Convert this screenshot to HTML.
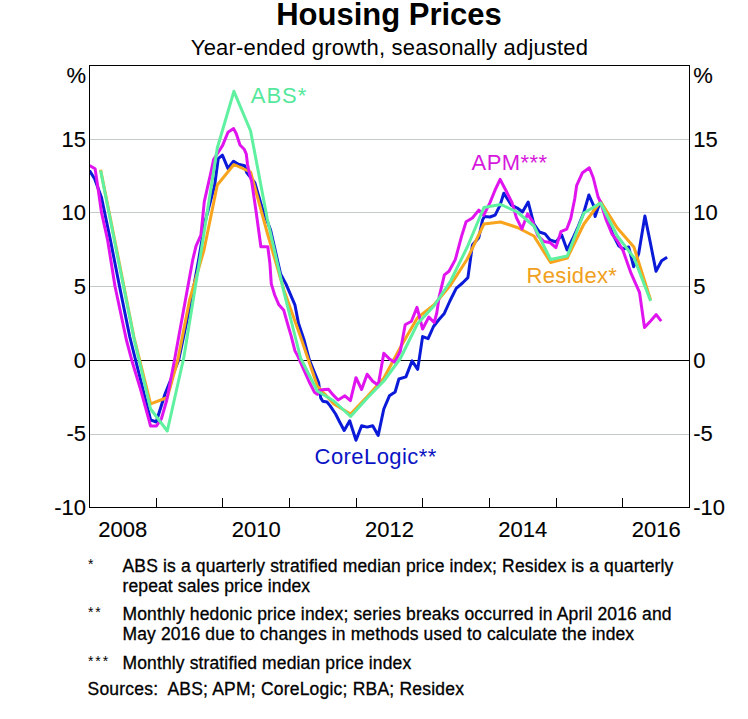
<!DOCTYPE html><html><head><meta charset="utf-8"><style>html,body{margin:0;padding:0;background:#fff;}svg{display:block;}text{font-family:"Liberation Sans",sans-serif;}.k{stroke:#000;stroke-width:0.3px;}.k2{stroke:#000;stroke-width:0.12px;}</style></head><body>
<svg width="748" height="719" viewBox="0 0 748 719">
<rect width="748" height="719" fill="#fff"/>
<text x="389" y="25" text-anchor="middle" font-size="31" font-weight="bold" fill="#000">Housing Prices</text>
<text x="389.5" y="54.7" text-anchor="middle" font-size="22" letter-spacing="0.18" fill="#000">Year-ended growth, seasonally adjusted</text>
<line x1="90" x2="689" y1="139.5" y2="139.5" stroke="#c3cac8" stroke-width="1"/>
<line x1="90" x2="689" y1="212.5" y2="212.5" stroke="#c3cac8" stroke-width="1"/>
<line x1="90" x2="689" y1="286.5" y2="286.5" stroke="#c3cac8" stroke-width="1"/>
<line x1="90" x2="689" y1="434.5" y2="434.5" stroke="#c3cac8" stroke-width="1"/>
<line x1="89" x2="690" y1="360.5" y2="360.5" stroke="#000" stroke-width="1"/>
<line x1="156.5" x2="156.5" y1="498" y2="507" stroke="#000" stroke-width="1"/>
<line x1="222.5" x2="222.5" y1="498" y2="507" stroke="#000" stroke-width="1"/>
<line x1="289.5" x2="289.5" y1="498" y2="507" stroke="#000" stroke-width="1"/>
<line x1="356.5" x2="356.5" y1="498" y2="507" stroke="#000" stroke-width="1"/>
<line x1="422.5" x2="422.5" y1="498" y2="507" stroke="#000" stroke-width="1"/>
<line x1="489.5" x2="489.5" y1="498" y2="507" stroke="#000" stroke-width="1"/>
<line x1="556.5" x2="556.5" y1="498" y2="507" stroke="#000" stroke-width="1"/>
<line x1="622.5" x2="622.5" y1="498" y2="507" stroke="#000" stroke-width="1"/>
<defs><clipPath id="pc"><rect x="90" y="66" width="599" height="441"/></clipPath></defs>
<g fill="none" stroke-width="3" stroke-linejoin="round" stroke-linecap="butt" clip-path="url(#pc)">
<path d="M89.5,170.5 L94.6,178.8 L101.5,197.5 L110.4,240.0 L119.5,286.3 L129.8,337.0 L150.6,419.8 L156.2,422.0 L165.0,394.0 L178.7,360.0 L191.3,300.0 L198.6,260.0 L205.0,222.0 L214.7,185.0 L218.2,158.7 L222.4,155.2 L227.9,168.4 L233.5,161.2 L238.4,164.3 L244.6,165.7 L246.7,172.5 L254.8,182.7 L262.3,208.4 L270.6,230.0 L280.6,274.0 L285.9,283.9 L294.9,304.8 L298.4,322.9 L303.9,339.5 L309.5,360.4 L318.6,382.6 L320.7,397.9 L322.8,401.3 L327.0,402.0 L330.0,405.6 L335.6,414.0 L339.4,421.5 L344.2,430.5 L349.7,420.8 L356.0,440.3 L361.6,425.7 L367.1,427.1 L372.7,425.7 L378.2,435.4 L383.8,409.0 L389.4,395.8 L395.1,392.0 L398.9,379.0 L405.9,376.9 L412.1,360.9 L417.7,369.3 L422.6,336.6 L428.1,338.7 L433.5,326.5 L439.0,319.5 L444.3,313.4 L449.9,301.0 L456.2,288.4 L462.5,283.0 L467.9,277.6 L472.4,245.1 L478.8,237.7 L482.5,220.1 L484.4,216.4 L490.0,217.0 L495.1,215.1 L500.1,205.1 L503.8,193.2 L507.0,198.2 L511.4,205.1 L517.3,208.0 L522.5,212.0 L528.2,202.0 L533.8,223.9 L539.4,232.0 L545.1,233.9 L550.0,240.0 L556.0,242.0 L561.7,235.0 L567.1,250.0 L572.8,238.5 L578.4,226.0 L583.8,212.5 L588.9,195.0 L593.7,205.8 L595.1,216.5 L598.1,207.7 L600.7,202.0 L606.2,216.0 L612.6,233.9 L618.7,245.7 L623.1,249.0 L628.7,247.0 L633.7,266.8 L638.7,253.5 L644.9,216.0 L650.6,244.0 L656.0,271.3 L661.6,260.7 L667.1,257.3" stroke="#0a1ad8"/>
<path d="M100.6,169.7 L117.3,253.0 L133.9,337.0 L150.6,403.8 L167.3,397.5 L177.8,360.0 L189.6,300.0 L204.0,250.0 L217.3,185.0 L233.9,164.5 L250.6,172.0 L267.3,233.0 L283.9,290.0 L300.6,337.0 L317.3,386.0 L333.9,404.0 L350.6,414.0 L367.3,396.5 L383.9,378.0 L400.6,347.0 L417.3,318.0 L433.9,305.0 L450.6,285.0 L467.3,259.0 L483.9,224.0 L500.6,222.0 L517.3,227.5 L533.9,236.0 L550.6,262.5 L567.3,258.0 L583.9,224.0 L600.6,201.5 L617.3,228.0 L633.9,247.0 L650.6,300.0" stroke="#f8a41c"/>
<path d="M89.5,165.6 L95.1,168.8 L98.4,191.0 L101.5,212.5 L107.6,240.0 L115.0,286.3 L126.4,340.0 L132.5,362.8 L140.9,390.6 L148.5,418.4 L150.6,426.0 L156.5,426.0 L161.3,419.0 L166.8,400.0 L174.5,360.0 L192.7,260.0 L196.0,246.2 L200.9,235.1 L204.3,201.7 L207.1,189.2 L210.6,173.9 L213.6,159.5 L218.6,151.7 L222.5,145.6 L228.0,132.2 L233.6,128.6 L236.3,133.7 L240.0,145.0 L244.2,149.2 L246.3,154.2 L247.5,164.2 L249.2,172.5 L251.7,181.5 L256.0,211.0 L260.9,246.8 L267.8,246.8 L269.9,263.4 L271.3,283.9 L274.7,295.0 L278.9,304.8 L283.8,310.3 L287.3,322.9 L291.4,336.8 L294.9,350.7 L297.8,356.1 L303.3,368.6 L308.9,381.2 L314.5,392.3 L317.3,394.4 L320.0,390.2 L324.2,389.5 L328.4,389.2 L332.6,394.4 L338.1,400.0 L344.9,395.8 L350.4,400.6 L356.0,377.7 L361.6,389.5 L367.1,374.2 L372.7,381.2 L378.2,385.3 L383.8,353.3 L389.4,358.9 L394.7,362.3 L400.3,351.2 L405.2,324.8 L411.4,321.3 L417.0,307.4 L422.6,329.0 L428.8,317.1 L434.2,322.5 L436.7,313.4 L439.2,296.7 L444.4,274.9 L449.0,271.3 L455.3,259.6 L461.6,236.1 L466.1,221.7 L472.4,218.0 L478.8,210.1 L483.8,215.1 L490.0,202.6 L495.1,190.0 L500.1,179.4 L506.3,191.3 L512.0,202.6 L516.4,217.6 L521.9,228.9 L527.5,213.9 L532.5,221.4 L538.0,236.0 L543.8,241.4 L550.0,242.5 L555.9,247.6 L560.9,231.7 L566.7,229.2 L570.8,218.4 L574.7,199.0 L576.7,185.3 L582.5,172.7 L589.3,167.8 L593.2,177.5 L598.1,197.0 L600.5,202.0 L606.3,220.2 L612.0,234.0 L617.6,241.2 L623.1,250.7 L628.7,266.8 L631.1,273.4 L639.5,292.3 L644.5,327.5 L650.6,321.0 L656.2,314.6 L661.2,321.2" stroke="#e014ee"/>
<path d="M100.6,170.5 L117.3,255.0 L133.9,338.0 L150.6,409.0 L167.3,431.0 L183.9,357.0 L200.6,254.5 L217.3,148.0 L233.9,91.3 L250.6,131.0 L267.3,219.0 L283.9,292.0 L300.6,358.0 L317.3,391.0 L333.9,401.0 L350.6,416.5 L367.3,398.0 L383.9,381.0 L400.6,358.0 L417.3,324.0 L433.9,306.0 L450.6,281.0 L467.3,247.0 L483.9,207.5 L500.6,204.5 L517.3,212.0 L533.9,226.0 L550.6,259.5 L567.3,256.0 L583.9,213.0 L600.6,203.0 L617.3,236.0 L633.9,257.5 L650.6,301.0" stroke="#5ff0a0"/>
</g>
<rect x="89.5" y="65.5" width="600" height="442" fill="none" stroke="#000" stroke-width="1"/>
<text class="k2" x="86" y="83.4" text-anchor="end" font-size="22">%</text>
<text class="k2" x="693.3" y="83.4" font-size="22">%</text>
<text class="k2" x="86" y="146.6" text-anchor="end" font-size="22">15</text>
<text class="k2" x="693.3" y="146.6" font-size="22">15</text>
<text class="k2" x="86" y="220.3" text-anchor="end" font-size="22">10</text>
<text class="k2" x="693.3" y="220.3" font-size="22">10</text>
<text class="k2" x="86" y="293.9" text-anchor="end" font-size="22">5</text>
<text class="k2" x="693.3" y="293.9" font-size="22">5</text>
<text class="k2" x="86" y="367.6" text-anchor="end" font-size="22">0</text>
<text class="k2" x="693.3" y="367.6" font-size="22">0</text>
<text class="k2" x="86" y="441.3" text-anchor="end" font-size="22">-5</text>
<text class="k2" x="693.3" y="441.3" font-size="22">-5</text>
<text class="k2" x="86" y="514.9" text-anchor="end" font-size="22">-10</text>
<text class="k2" x="693.3" y="514.9" font-size="22">-10</text>
<text class="k2" x="122.8" y="536.6" text-anchor="middle" font-size="22">2008</text>
<text class="k2" x="256.2" y="536.6" text-anchor="middle" font-size="22">2010</text>
<text class="k2" x="389.5" y="536.6" text-anchor="middle" font-size="22">2012</text>
<text class="k2" x="522.8" y="536.6" text-anchor="middle" font-size="22">2014</text>
<text class="k2" x="656.2" y="536.6" text-anchor="middle" font-size="22">2016</text>
<text x="250.8" y="103.3" font-size="22" fill="#55e89c" textLength="55.4" lengthAdjust="spacing">ABS*</text>
<text x="471.6" y="170.0" font-size="22" fill="#d618dc" textLength="75.4" lengthAdjust="spacing">APM***</text>
<text x="526.6" y="282.7" font-size="22" fill="#f0a020" textLength="90.2" lengthAdjust="spacing">Residex*</text>
<text x="314.6" y="464.3" font-size="22" fill="#0a14c4" textLength="121.6" lengthAdjust="spacing">CoreLogic**</text>
<text x="87.9" y="568.5" font-size="14" letter-spacing="2.0">*</text>
<text x="87.9" y="616.5" font-size="14" letter-spacing="2.0">**</text>
<text x="87.9" y="665.7" font-size="14" letter-spacing="2.0">***</text>
<text class="k" x="122.5" y="571.7" font-size="17.5" textLength="550.8" lengthAdjust="spacing" xml:space="preserve">ABS is a quarterly stratified median price index; Residex is a quarterly</text>
<text class="k" x="122.5" y="592.2" font-size="17.5" textLength="187.6" lengthAdjust="spacing" xml:space="preserve">repeat sales price index</text>
<text class="k" x="122.5" y="619.7" font-size="17.5" textLength="549.0" lengthAdjust="spacing" xml:space="preserve">Monthly hedonic price index; series breaks occurred in April 2016 and</text>
<text class="k" x="122.5" y="640.0" font-size="17.5" textLength="511.6" lengthAdjust="spacing" xml:space="preserve">May 2016 due to changes in methods used to calculate the index</text>
<text class="k" x="122.5" y="668.9" font-size="17.5" textLength="288.7" lengthAdjust="spacing" xml:space="preserve">Monthly stratified median price index</text>
<text class="k" x="87.5" y="695.4" font-size="17.5" textLength="376.4" lengthAdjust="spacing" xml:space="preserve">Sources:  ABS; APM; CoreLogic; RBA; Residex</text>
</svg></body></html>
